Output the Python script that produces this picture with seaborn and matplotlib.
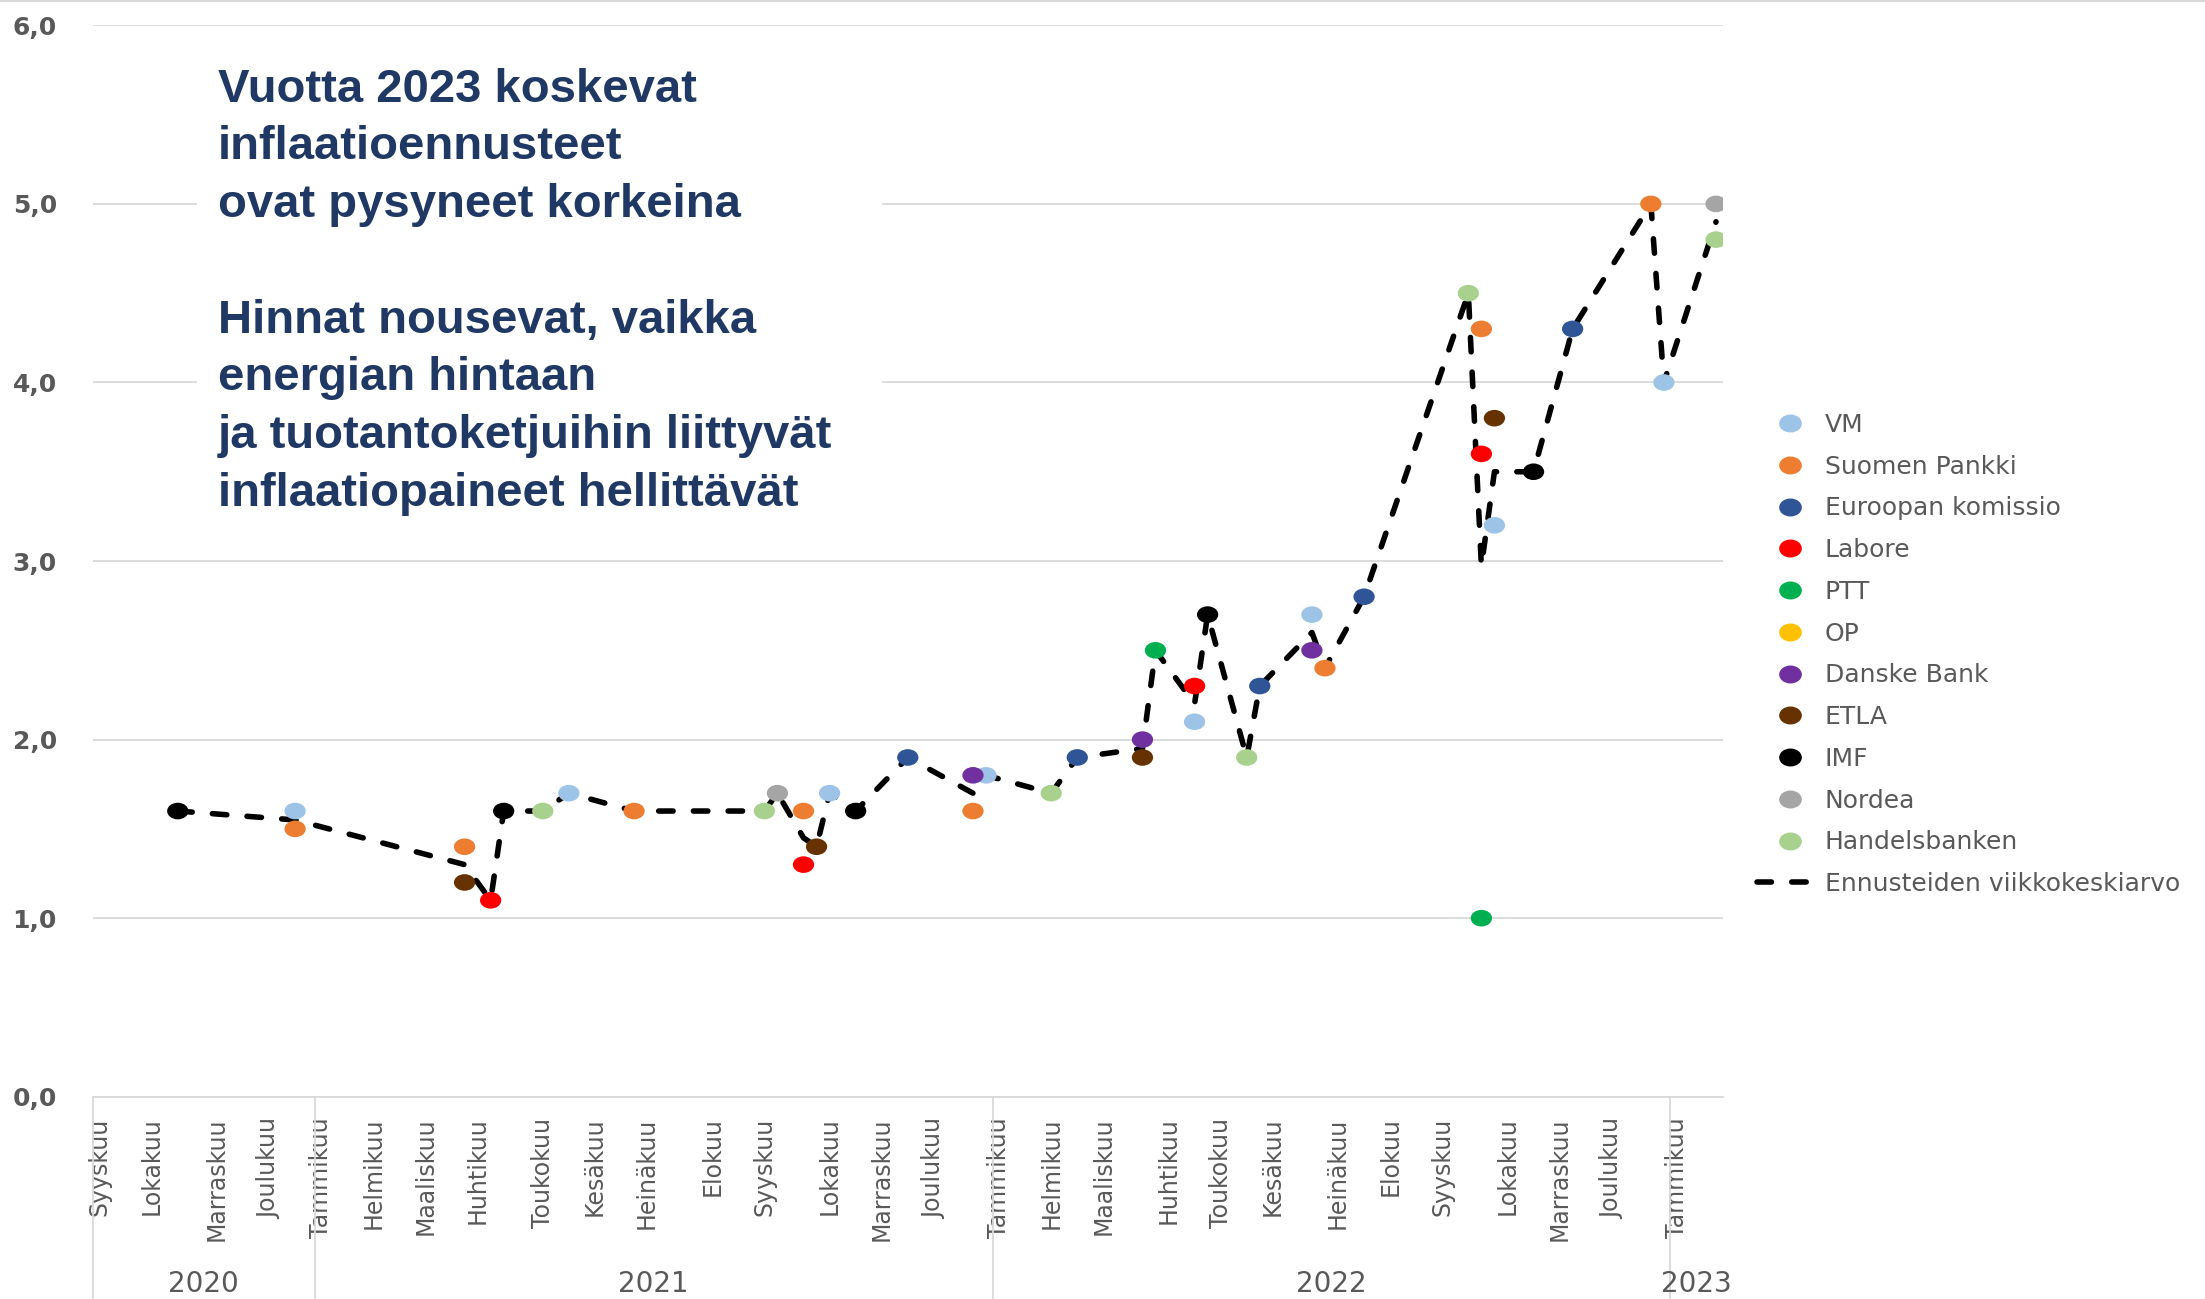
import matplotlib
matplotlib.use("Agg")
import pandas as pd
import seaborn as sns
import matplotlib.pyplot as plt
import matplotlib.path as mpath
import matplotlib.transforms as mtransforms
from matplotlib.markers import MarkerStyle
from matplotlib.lines import Line2D
from matplotlib.patches import Rectangle

# ennusteet vuodelle 2023: (viikko, inflaatio %)
vm = [("2020-12-21", 1.6), ("2021-05-17", 1.7), ("2021-10-04", 1.7), ("2021-12-27", 1.8),
      ("2022-04-18", 2.1), ("2022-06-20", 2.7), ("2022-09-26", 3.2), ("2022-12-26", 4.0)]
suomen_pankki = [("2020-12-21", 1.5), ("2021-03-22", 1.4), ("2021-06-21", 1.6), ("2021-09-20", 1.6),
                 ("2021-12-20", 1.6), ("2022-06-27", 2.4), ("2022-09-19", 4.3), ("2022-12-19", 5.0)]
komissio = [("2021-11-15", 1.9), ("2022-02-14", 1.9), ("2022-05-23", 2.3), ("2022-07-18", 2.8),
            ("2022-11-07", 4.3)]
labore = [("2021-04-05", 1.1), ("2021-09-20", 1.3), ("2022-04-18", 2.3), ("2022-09-19", 3.6)]
ptt = [("2022-03-28", 2.5), ("2022-09-19", 1.0)]
op = []
danske = [("2021-12-20", 1.8), ("2022-03-21", 2.0), ("2022-06-20", 2.5)]
etla = [("2021-03-22", 1.2), ("2021-09-27", 1.4), ("2022-03-21", 1.9), ("2022-09-26", 3.8)]
imf = [("2020-10-19", 1.6), ("2021-04-12", 1.6), ("2021-10-18", 1.6), ("2022-04-25", 2.7),
       ("2022-10-17", 3.5)]
nordea = [("2021-09-06", 1.7), ("2023-01-23", 5.0)]
handelsbanken = [("2021-05-03", 1.6), ("2021-08-30", 1.6), ("2022-01-31", 1.7), ("2022-05-16", 1.9),
                 ("2022-09-12", 4.5), ("2023-01-23", 4.8)]

# viikkokeskiarvo
avg_dates = ["2020-10-19", "2020-12-21", "2021-03-22", "2021-04-05", "2021-04-12", "2021-05-03",
             "2021-05-17", "2021-06-21", "2021-08-30", "2021-09-06", "2021-09-20", "2021-09-27",
             "2021-10-04", "2021-10-18", "2021-11-15", "2021-12-20", "2021-12-27", "2022-01-31",
             "2022-02-14", "2022-03-21", "2022-03-28", "2022-04-18", "2022-04-25", "2022-05-16",
             "2022-05-23", "2022-06-20", "2022-06-27", "2022-07-18", "2022-09-12", "2022-09-19",
             "2022-09-26", "2022-10-17", "2022-11-07", "2022-12-19", "2022-12-26", "2023-01-23"]
avg_values = [1.6, 1.55, 1.3, 1.1, 1.6, 1.6,
              1.7, 1.6, 1.6, 1.7, 1.45, 1.4,
              1.7, 1.6, 1.9, 1.7, 1.8, 1.7,
              1.9, 1.95, 2.5, 2.2, 2.7, 1.9,
              2.3, 2.6, 2.4, 2.8, 4.5, 2.97,
              3.5, 3.5, 4.3, 5.0, 4.0, 4.9]

names = ["VM", "Suomen Pankki", "Euroopan komissio", "Labore", "PTT", "OP",
         "Danske Bank", "ETLA", "IMF", "Nordea", "Handelsbanken"]
series = [vm, suomen_pankki, komissio, labore, ptt, op, danske, etla, imf, nordea, handelsbanken]
colors = ["#9DC3E6", "#ED7D31", "#2F5597", "#FF0000", "#00B050", "#FFC000",
          "#7030A0", "#663300", "#000000", "#A5A5A5", "#A9D18E"]
avg_label = "Ennusteiden viikkokeskiarvo"

month_ticks = ["2020-09-07", "2020-10-05", "2020-11-09", "2020-12-07",
               "2021-01-04", "2021-02-01", "2021-03-01", "2021-03-29", "2021-05-03", "2021-05-31",
               "2021-06-28", "2021-08-02", "2021-08-30", "2021-10-04", "2021-11-01", "2021-11-29",
               "2022-01-03", "2022-01-31", "2022-02-28", "2022-04-04", "2022-05-02", "2022-05-30",
               "2022-07-04", "2022-08-01", "2022-08-29", "2022-10-03", "2022-10-31", "2022-11-28",
               "2023-01-02"]
month_names = ["Syyskuu", "Lokakuu", "Marraskuu", "Joulukuu",
               "Tammikuu", "Helmikuu", "Maaliskuu", "Huhtikuu", "Toukokuu", "Kesäkuu",
               "Heinäkuu", "Elokuu", "Syyskuu", "Lokakuu", "Marraskuu", "Joulukuu",
               "Tammikuu", "Helmikuu", "Maaliskuu", "Huhtikuu", "Toukokuu", "Kesäkuu",
               "Heinäkuu", "Elokuu", "Syyskuu", "Lokakuu", "Marraskuu", "Joulukuu",
               "Tammikuu"]
years = ["2020", "2021", "2022", "2023"]
year_edges = ["2020-09-03 12:00", "2020-12-31 12:00", "2021-12-30 12:00",
              "2022-12-29 12:00", "2023-01-26 12:00"]

title = ("Vuotta 2023 koskevat\ninflaatioennusteet\novat pysyneet korkeina\n\n"
         "Hinnat nousevat, vaikka\nenergian hintaan\nja tuotantoketjuihin liittyvät\n"
         "inflaatiopaineet hellittävät")

rows = []
for name, pts in zip(names, series):
    for d, v in pts:
        rows.append((name, d, v))
df = pd.DataFrame(rows, columns=["ennustaja", "pvm", "arvo"])
df["pvm"] = pd.to_datetime(df["pvm"])
avg = pd.DataFrame({"pvm": pd.to_datetime(avg_dates), "arvo": avg_values})

sns.set_style("white")
plt.rcParams["font.family"] = ["DejaVu Sans"]

grey = "#595959"
light = "#D9D9D9"
dash = (0, (2.6, 3.65))

circle = mpath.Path.unit_circle()
ellipse = mpath.Path(circle.vertices * [1.0, 0.78], circle.codes)
dot = MarkerStyle(ellipse)

fig = plt.figure(figsize=(22.05, 12.99), dpi=100)
ax = fig.add_axes([0.0422, 0.1557, 0.739, 0.8248])

sns.lineplot(data=avg, x="pvm", y="arvo", color="black", lw=4.0, linestyle=dash,
             dash_capstyle="round", zorder=2, ax=ax, legend=False)
sns.scatterplot(data=df, x="pvm", y="arvo", hue="ennustaja", hue_order=names,
                palette=dict(zip(names, colors)), marker=dot, s=235, linewidth=0,
                zorder=3, ax=ax, legend=False)

edges = pd.to_datetime(year_edges)
ax.set_xlim(edges[0], edges[-1])
ax.set_ylim(0, 6)
ax.set_yticks(range(7))
ax.set_yticklabels([f"{v},0" for v in range(7)], fontsize=18, fontweight="bold", color=grey)
ax.set_xticks(pd.to_datetime(month_ticks))
ax.set_xticklabels(month_names, rotation=90, fontsize=17, color=grey)
ax.tick_params(axis="x", length=0, pad=15)
ax.tick_params(axis="y", length=0, pad=26)
ax.set_xlabel("")
ax.set_ylabel("")
ax.yaxis.grid(True, color=light, lw=1.3)
ax.xaxis.grid(False)
ax.set_axisbelow(True)
for s in ["top", "right", "left"]:
    ax.spines[s].set_visible(False)
ax.spines["bottom"].set_color(light)
ax.spines["bottom"].set_linewidth(1.3)

# vuosirivi
xt = ax.get_xaxis_transform()
for e in edges[:-1]:
    ax.plot([e, e], [0, -0.2], transform=xt, color=light, lw=1.3, clip_on=False)
yt = mtransforms.blended_transform_factory(ax.transData, fig.transFigure)
for i, y in enumerate(years):
    mid = edges[i] + (edges[i + 1] - edges[i]) / 2
    ax.text(mid, 0.0115, y, transform=yt, ha="center", va="center", fontsize=20, color=grey)
ax.set_xlim(edges[0], edges[-1])
ax.set_ylim(0, 6)

fig.add_artist(Line2D([0, 1], [0.9992, 0.9992], transform=fig.transFigure, color=light, lw=1.5))
fig.add_artist(Rectangle((0.0893, 0.5835), 0.3107, 0.3734, transform=fig.transFigure,
                         facecolor="white", edgecolor="none", zorder=5))
fig.text(0.0989, 0.948, title, fontsize=34, fontweight="bold", color="#1F3864",
         family=["Liberation Sans", "DejaVu Sans"], ha="left", va="top", linespacing=1.405,
         zorder=6)

handles = [Line2D([], [], marker=dot, ms=15.3, color=c, linestyle="none") for c in colors]
handles.append(Line2D([], [], color="black", lw=4.0, linestyle=dash, dash_capstyle="round"))
fig.legend(handles, names + [avg_label], loc="center left", bbox_to_anchor=(0.797, 0.4961),
           frameon=False, fontsize=18, labelcolor=grey, handlelength=2.6, handletextpad=0.1,
           labelspacing=0.71, borderpad=0, borderaxespad=0)

fig.savefig("out.png", dpi=100)
